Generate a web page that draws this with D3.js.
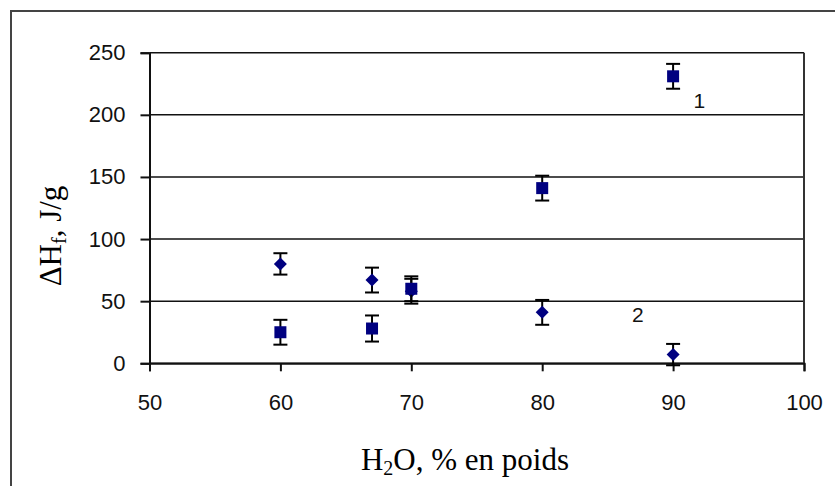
<!DOCTYPE html>
<html>
<head>
<meta charset="utf-8">
<script src="https://cdn.jsdelivr.net/npm/d3@7"></script>
<style>
  html, body { margin: 0; padding: 0; background: #fff; }
  svg { display: block; }
</style>
</head>
<body>
<script>
// ---- data ----
const xTicks = [50, 60, 70, 80, 90, 100];
const yTicks = [0, 50, 100, 150, 200, 250];

const series1X = [60, 67, 70, 80, 90];
const series1Y = [25, 28, 60, 141, 231];
const series1Err = [10, 10.5, 10, 10, 10];

const series2X = [60, 67, 70, 80, 90];
const series2Y = [80, 67, 58, 41, 7];
const series2Err = [8.6, 10, 10, 10, 8.6];

const seriesLabels = [
  { text: "1", x: 92.0, y: 211.5 },
  { text: "2", x: 87.3, y: 39 }
];

// ---- layout ----
const W = 835, H = 486;
const margin = { left: 149.5, right: 835 - 804, top: 52.7, bottom: 486 - 363.3 };

const svg = d3.select("body").append("svg")
  .attr("width", W).attr("height", H);

// outer chart frame (only top/left visible)
svg.append("rect")
  .attr("x", 11).attr("y", 11)
  .attr("width", 900).attr("height", 600)
  .attr("fill", "none")
  .attr("stroke", "#444")
  .attr("stroke-width", 2);

const x = d3.scaleLinear().domain([50, 100]).range([margin.left, W - margin.right]);
const y = d3.scaleLinear().domain([0, 250]).range([H - margin.bottom, margin.top]);

const tickFont = "'Liberation Sans', Arial, sans-serif";

// gridlines
svg.append("g")
  .selectAll("line")
  .data(yTicks)
  .join("line")
  .attr("x1", x(50)).attr("x2", x(100))
  .attr("y1", d => y(d)).attr("y2", d => y(d))
  .attr("stroke", "#111").attr("stroke-width", 1.6);

// right border of plot area
svg.append("line")
  .attr("x1", x(100)).attr("x2", x(100))
  .attr("y1", y(250)).attr("y2", y(0))
  .attr("stroke", "#333").attr("stroke-width", 2);

// y axis
const yAxis = svg.append("g")
  .attr("transform", `translate(${x(50)},0)`)
  .call(d3.axisLeft(y).tickValues(yTicks).tickSize(9).tickPadding(15));
yAxis.select(".domain").attr("stroke", "#111").attr("stroke-width", 2);
yAxis.selectAll(".tick line").attr("stroke", "#111").attr("stroke-width", 2);
yAxis.selectAll(".tick text")
  .attr("font-family", tickFont).attr("font-size", 22).attr("fill", "#111");

// x axis
const xAxis = svg.append("g")
  .attr("transform", `translate(0,${y(0)})`)
  .call(d3.axisBottom(x).tickValues(xTicks).tickSize(8).tickPadding(23));
xAxis.select(".domain").attr("stroke", "#111").attr("stroke-width", 2);
xAxis.selectAll(".tick line").attr("stroke", "#111").attr("stroke-width", 2);
xAxis.selectAll(".tick text")
  .attr("font-family", tickFont).attr("font-size", 22).attr("fill", "#111");

const navy = "#000080";

function drawSeries(xs, ys, errs, shape) {
  const g = svg.append("g");
  const data = xs.map((v, i) => ({ x: v, y: ys[i], e: errs[i] }));
  const capW = 7;
  // error bars
  g.selectAll("line.v").data(data).join("line")
    .attr("x1", d => x(d.x)).attr("x2", d => x(d.x))
    .attr("y1", d => y(d.y + d.e)).attr("y2", d => y(d.y - d.e))
    .attr("stroke", "#000").attr("stroke-width", 2);
  g.selectAll("line.t").data(data).join("line")
    .attr("x1", d => x(d.x) - capW).attr("x2", d => x(d.x) + capW)
    .attr("y1", d => y(d.y + d.e)).attr("y2", d => y(d.y + d.e))
    .attr("stroke", "#000").attr("stroke-width", 2);
  g.selectAll("line.b").data(data).join("line")
    .attr("x1", d => x(d.x) - capW).attr("x2", d => x(d.x) + capW)
    .attr("y1", d => y(d.y - d.e)).attr("y2", d => y(d.y - d.e))
    .attr("stroke", "#000").attr("stroke-width", 2);
  // markers
  if (shape === "square") {
    g.selectAll("rect").data(data).join("rect")
      .attr("x", d => x(d.x) - 6).attr("y", d => y(d.y) - 6)
      .attr("width", 12).attr("height", 12)
      .attr("fill", navy);
  } else {
    g.selectAll("path").data(data).join("path")
      .attr("d", d => {
        const cx = x(d.x), cy = y(d.y);
        return `M${cx},${cy - 6.5}L${cx + 6.5},${cy}L${cx},${cy + 6.5}L${cx - 6.5},${cy}Z`;
      })
      .attr("fill", navy);
  }
}

drawSeries(series2X, series2Y, series2Err, "diamond");
drawSeries(series1X, series1Y, series1Err, "square");

// series labels
svg.append("g").selectAll("text").data(seriesLabels).join("text")
  .attr("x", d => x(d.x)).attr("y", d => y(d.y))
  .attr("text-anchor", "middle")
  .attr("dominant-baseline", "central")
  .attr("font-family", tickFont).attr("font-size", 21).attr("fill", "#111")
  .text(d => d.text);

// axis titles
const serif = "'Liberation Serif', 'Times New Roman', serif";
const xt = svg.append("text")
  .attr("x", 465).attr("y", 470)
  .attr("text-anchor", "middle")
  .attr("font-family", serif).attr("font-size", 31).attr("fill", "#000");
xt.append("tspan").text("H");
xt.append("tspan").attr("font-size", 20).attr("dy", 5).text("2");
xt.append("tspan").attr("dy", -5).text("O, % en poids");

const yt = svg.append("text")
  .attr("transform", "translate(61,236) rotate(-90)")
  .attr("text-anchor", "middle")
  .attr("font-family", serif).attr("font-size", 31).attr("fill", "#000");
yt.append("tspan").text("ΔH");
yt.append("tspan").attr("font-size", 20).attr("dy", 5).text("f");
yt.append("tspan").attr("dy", -5).text(", J/g");
</script>
</body>
</html>
